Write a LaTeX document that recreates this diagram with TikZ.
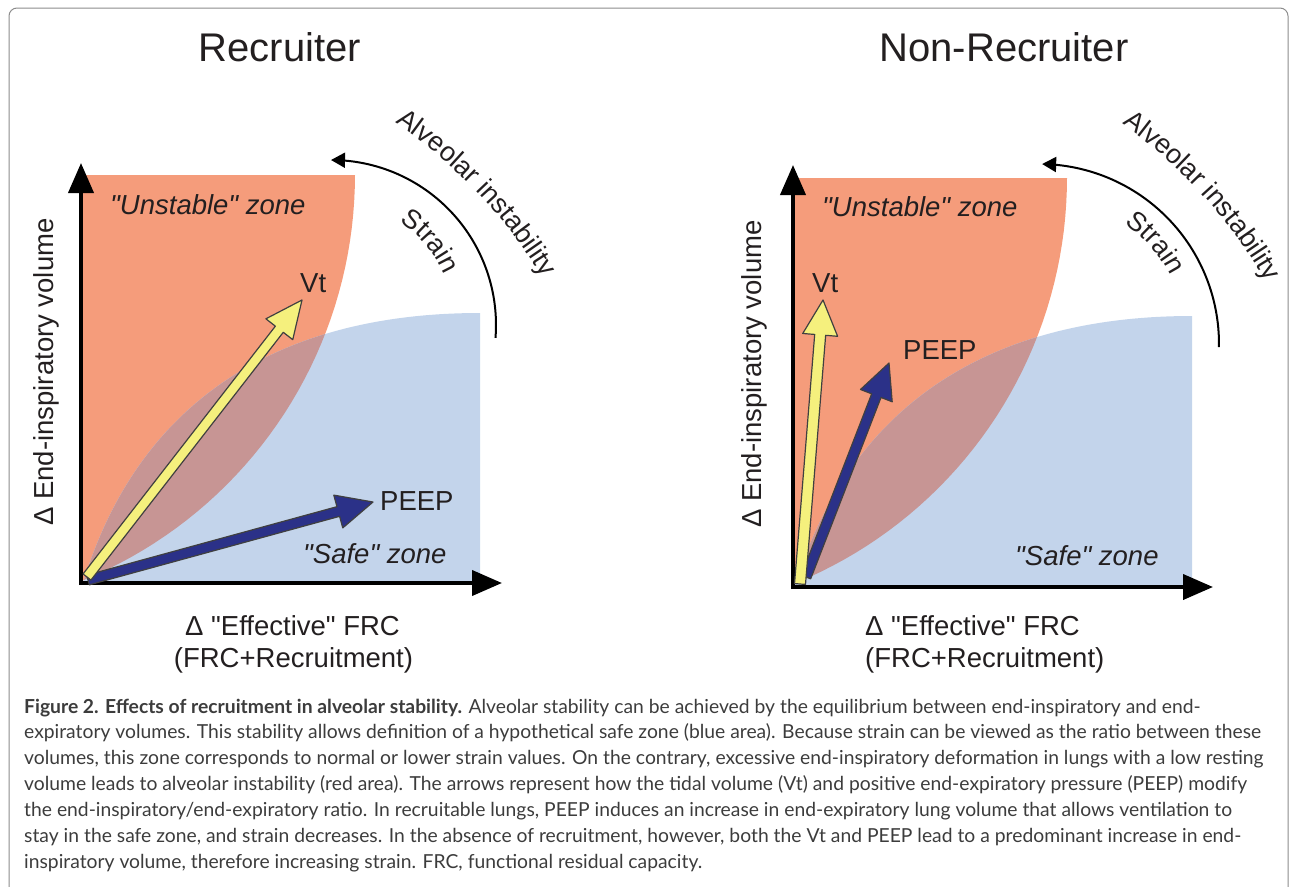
\documentclass[tikz,border=0pt]{standalone}
\usepackage{fontspec}
\newfontfamily\figfont{Liberation Sans}
\newfontfamily\capfont{Lato}
\usetikzlibrary{arrows.meta,calc,decorations.text}

\definecolor{unstable}{HTML}{F59C7B}
\definecolor{safe}{HTML}{C3D4EB}
\definecolor{overlap}{HTML}{C79594}
\definecolor{vtyellow}{HTML}{F5F07D}
\definecolor{peepblue}{HTML}{2B3188}
\definecolor{framegray}{HTML}{8C8C8C}
\definecolor{ink}{HTML}{231F20}
\definecolor{capink}{HTML}{3C3C3C}

\newcommand{\arcfont}{\figfont\fontsize{27}{32}\selectfont}

% zones, in pixels of the left panel
\newcommand{\unstablepath}{(81,175) -- (355,175) -- plot[domain=0:67.6,samples=40] ({-83+438*cos(\x)},{175+438*sin(\x)}) -- (81,583) -- cycle}
\newcommand{\safepath}{(84,580) .. controls (140,400) and (280,313) .. (480,313) -- (480,583) -- (81,583) -- cycle}
\newcommand{\zones}{%
  \fill[unstable] \unstablepath;
  \fill[safe] \safepath;
  \begin{scope}
    \clip \unstablepath;
    \fill[overlap] \safepath;
  \end{scope}
}
% fat arrow: style, base, tip, shaft half width, head half width, head length
\newcommand{\fatarrow}[6]{%
  \coordinate (#3-neck) at ($(#3)!#6!(#2)$);
  \filldraw[#1] ($(#2)!#4!90:(#3)$) -- ($(#3-neck)!#4!90:(#3)$) -- ($(#3-neck)!#5!90:(#3)$) -- (#3)
    -- ($(#3-neck)!#5!-90:(#3)$) -- ($(#3-neck)!#4!-90:(#3)$) -- ($(#2)!#4!-90:(#3)$) -- cycle;
}

\begin{document}
\begin{tikzpicture}[x=1pt, y=-1pt,
    axisline/.style={line width=4pt, -{Triangle[width=25pt,length=30pt]}},
    bendarrow/.style={line width=2pt, -{Triangle[width=15pt,length=14pt]}},
    vtarrow/.style={fill=vtyellow, draw=black!75, line width=1.2pt, line join=round},
    peeparrow/.style={fill=peepblue, draw=black!75, line width=1.2pt, line join=round},
    title/.style={font=\figfont\fontsize{40}{48}\selectfont, text=ink, inner sep=0pt, anchor=base},
    lbl/.style={font=\figfont\fontsize{27.5}{32}\selectfont, text=ink, inner sep=0pt},
    zonelbl/.style={font=\figfont\fontsize{27.5}{32}\selectfont\itshape, text=ink, inner sep=0pt, anchor=base west},
    arctext/.style={decorate, decoration={text along path, text align=center, text color=ink, text={|\arcfont|#1}}},
]
    \useasboundingbox (0,0) rectangle (1290,886);
    \clip (0,0) rectangle (1290,886);
    % Frame
    \draw[framegray, line width=1pt, rounded corners=8pt] (9,8) rectangle (1288,940);

    % Recruiter
    \node[title] (title1) at (280,61) {Recruiter};
    \zones
    \coordinate (o1) at (81,583);
    \coordinate (y1) at (81,163);
    \coordinate (x1) at (502,583);
    \draw[axisline] ($(o1)+(0,2)$) -- (y1);
    \draw[axisline] ($(o1)+(-2,0)$) -- (x1);
    % PEEP and Vt
    \coordinate (peepbase1) at (88,580);
    \coordinate (peeptip1) at (373,502);
    \coordinate (vtbase1) at (87,577);
    \coordinate (vttip1) at (302,300);
    \fatarrow{peeparrow}{peepbase1}{peeptip1}{5pt}{17pt}{36pt}
    \fatarrow{vtarrow}{vtbase1}{vttip1}{5pt}{17pt}{37pt}
    \node[lbl, anchor=base west] (vt1) at (300,292) {Vt};
    \node[lbl, anchor=base west] (peep1) at (380,510) {PEEP};
    \node[zonelbl] (unst1) at (110,214) {"Unstable" zone};
    \node[zonelbl] (safe1) at (303,563) {"Safe" zone};
    % Strain arc
    \draw[bendarrow] plot[domain=-4.5:90, samples=60] ({331+165*cos(\x)},{325-165*sin(\x)});
    \path[arctext={Alveolar instability}] plot[domain=70:17.2, samples=80] ({115.4+500*cos(\x)},{537-500*sin(\x)});
    \path[arctext={Strain}] plot[domain=90:-10, samples=80] ({331+124*cos(\x)},{325-124*sin(\x)});
    % axis labels
    \node[lbl, rotate=90, anchor=base] (ylab1) at (53,372) {Δ End-inspiratory volume};
    \node[lbl, anchor=base] (xlab1) at (292.5,635) {Δ "Effective" FRC};
    \node[lbl, anchor=base] (xsub1) at (293.5,667) {(FRC+Recruitment)};

    % Non-Recruiter
    \node[title] (title2) at (1004,61) {Non-Recruiter};
    \begin{scope}[shift={(712,3)}]
      \zones
    \end{scope}
    \coordinate (o2) at (793,587);
    \coordinate (y2) at (793,165);
    \coordinate (x2) at (1213,587);
    \draw[axisline] ($(o2)+(0,2)$) -- (y2);
    \draw[axisline] ($(o2)+(-2,0)$) -- (x2);
    % PEEP and Vt
    \coordinate (peepbase2) at (806,577);
    \coordinate (peeptip2) at (889,363);
    \coordinate (vtbase2) at (800,584);
    \coordinate (vttip2) at (823,300);
    \fatarrow{peeparrow}{peepbase2}{peeptip2}{5pt}{17pt}{35pt}
    \fatarrow{vtarrow}{vtbase2}{vttip2}{5.5pt}{17.5pt}{35pt}
    \node[lbl, anchor=base west] (vt2) at (812,292) {Vt};
    \node[lbl, anchor=base west] (peep2) at (903,359) {PEEP};
    \node[zonelbl] (unst2) at (822,216) {"Unstable" zone};
    \node[zonelbl] (safe2) at (1015,565) {"Safe" zone};
    % Strain arc
    \draw[bendarrow] plot[domain=-1:89, samples=60] ({1039+180*cos(\x)},{344-180*sin(\x)});
    \path[arctext={Alveolar instability}] plot[domain=68.7:15.7, samples=80] ({832.6+500*cos(\x)},{531.2-500*sin(\x)});
    \path[arctext={Strain}] plot[domain=90:-8, samples=80] ({1039+148*cos(\x)},{344-148*sin(\x)});
    % axis labels
    \node[lbl, rotate=90, anchor=base] (ylab2) at (761,374) {Δ End-inspiratory volume};
    \node[lbl, anchor=base west] (xlab2) at (865,635) {Δ "Effective" FRC};
    \node[lbl, anchor=base west] (xsub2) at (865,667) {(FRC+Recruitment)};

    % Caption
    \node[anchor=base west, align=left, inner sep=0pt, text=capink,
          font=\capfont\fontsize{19.3}{25.9}\selectfont] (caption) at (24,868.4)
      {\textbf{Figure 2. Effects of recruitment in alveolar stability.} Alveolar stability can be achieved by the equilibrium between end-inspiratory and end-\\
       expiratory volumes. This stability allows definition of a hypothetical safe zone (blue area). Because strain can be viewed as the ratio between these\\
       volumes, this zone corresponds to normal or lower strain values. On the contrary, excessive end-inspiratory deformation in lungs with a low resting\\
       volume leads to alveolar instability (red area). The arrows represent how the tidal volume (Vt) and positive end-expiratory pressure (PEEP) modify\\
       the end-inspiratory/end-expiratory ratio. In recruitable lungs, PEEP induces an increase in end-expiratory lung volume that allows ventilation to\\
       stay in the safe zone, and strain decreases. In the absence of recruitment, however, both the Vt and PEEP lead to a predominant increase in end-\\
       inspiratory volume, therefore increasing strain. FRC, functional residual capacity.};
\end{tikzpicture}
\end{document}
